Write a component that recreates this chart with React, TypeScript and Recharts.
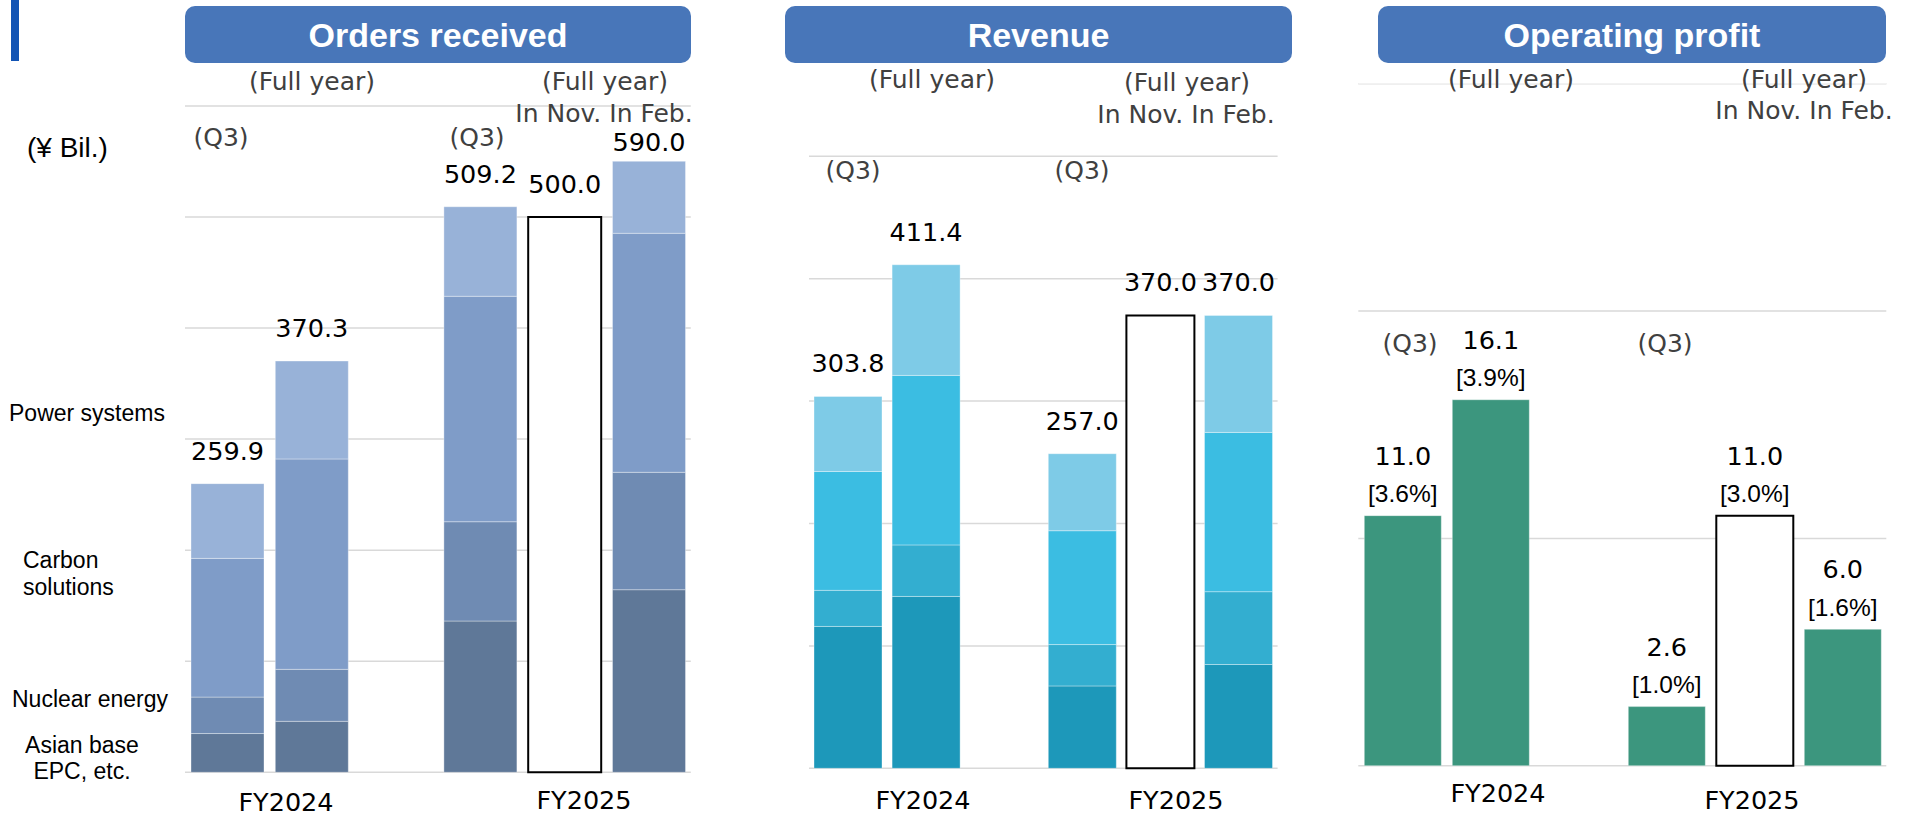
import React from 'react';
import { BarChart, Bar, XAxis, YAxis, CartesianGrid, LabelList, ReferenceLine } from 'recharts';

const W = 1910;
const H = 818;

// Six slots per panel: the third one is the empty gap between the two fiscal years
const slots = ['FY2024 Q3', 'FY2024 Full year', 'gap', 'FY2025 Q3', 'FY2025 Full year (Nov.)', 'FY2025 Full year (Feb.)'];
const segmentNames = ['Asian base EPC, etc.', 'Nuclear energy', 'Carbon solutions', 'Power systems'];

// Orders received (¥ Bil.)
const ordersAsian = [34.9, 45.9, null, 136.2, null, 164.4];
const ordersNuclear = [32.8, 46.8, null, 89.4, null, 105.7];
const ordersCarbon = [124.9, 189.4, null, 203.0, null, 215.2];
const ordersPower = [67.3, 88.2, null, 80.6, null, 64.8];
const ordersForecast = [null, null, null, null, 500.0, null];
const ordersLabels = ['259.9', '370.3', '', '509.2', '500.0', '590.0'];
const ordersTicks = [0, 100, 200, 300, 400, 500];

// Revenue (¥ Bil.)
const revAsian = [115.9, 140.4, null, 67.3, null, 84.8];
const revNuclear = [29.5, 42.1, null, 33.8, null, 59.5];
const revCarbon = [97.1, 138.5, null, 93.0, null, 130.1];
const revPower = [61.3, 90.4, null, 62.9, null, 95.6];
const revForecast = [null, null, null, null, 370.0, null];
const revLabels = ['303.8', '411.4', '', '257.0', '370.0', '370.0'];
const revTicks = [0, 100, 200, 300, 400, 500];

// Operating profit (¥ Bil.)
const opValues = [11.0, 16.1, null, 2.6, null, 6.0];
const opForecast = [null, null, null, null, 11.0, null];
const opLabels = ['11.0', '16.1', '', '2.6', '11.0', '6.0'];
const opMargins = ['[3.6%]', '[3.9%]', '', '[1.0%]', '[3.0%]', '[1.6%]'];
const opTicks = [0, 10, 20];

const panelTitles = ['Orders received', 'Revenue', 'Operating profit'];
const fyLabels = ['FY2024', 'FY2025'];

const ordersColors = ['#5F7898', '#6F8BB3', '#7F9CC8', '#98B2D8'];
const revColors = ['#1D98BA', '#33AED0', '#3BBDE2', '#7ECBE7'];
const opColors = ['#3C967E'];

const NUM_FONT = '"DejaVu Sans", Verdana, sans-serif';
const ARIAL = '"Liberation Sans", Arial, sans-serif';
const GRAY = '#404040';

function buildRows(segs: (number | null)[][], forecast: (number | null)[]) {
  return slots.map((slot, i) => {
    const r: any = { slot, idx: i };
    segs.forEach((s, k) => {
      r['s' + k] = s[i];
    });
    r.fc = forecast[i];
    return r;
  });
}

const ordersRows = buildRows([ordersAsian, ordersNuclear, ordersCarbon, ordersPower], ordersForecast);
const revRows = buildRows([revAsian, revNuclear, revCarbon, revPower], revForecast);
const opRows = buildRows([opValues], opForecast);

function topLabel(rows: any[], keys: string[], keyIdx: number, render: (cx: number, top: number, i: number) => any) {
  const key = keys[keyIdx];
  const present = rows.map((r, i) => (r[key] != null ? i : -1)).filter((i) => i >= 0);
  return (props: any) => {
    const vb = props.viewBox ?? props;
    let i: number | undefined;
    if (props.payload && typeof props.payload.idx === 'number') i = props.payload.idx;
    else if (props.index != null) i = present[props.index];
    if (i == null) return null;
    const row = rows[i];
    if (!row || row[key] == null) return null;
    for (let k = keyIdx + 1; k < keys.length; k++) if (row[keys[k]] != null) return null;
    const x = Number(vb.x);
    const y = Number(vb.y);
    const w = Number(vb.width);
    const h = Number(vb.height);
    const top = h < 0 ? y + h : y;
    return render(x + w / 2, top, i);
  };
}

type PanelProps = {
  rows: any[];
  segCount: number;
  colors: string[];
  domain: [number, number];
  ticks: number[];
  barSize: number;
  margin: { top: number; right: number; bottom: number; left: number };
  render: (cx: number, top: number, i: number) => any;
  faintTop?: number;
};

function Panel({ rows, segCount, colors, domain, ticks, barSize, margin, render, faintTop }: PanelProps) {
  const keys = [...Array.from({ length: segCount }, (_, k) => 's' + k), 'fc'];
  return (
    <div style={{ position: 'absolute', left: 0, top: 0 }}>
      <BarChart width={W} height={H} data={rows} margin={margin} barSize={barSize}>
        <CartesianGrid vertical={false} stroke="#D9D9D9" strokeWidth={1.5} />
        <XAxis dataKey="slot" hide />
        <YAxis hide type="number" domain={domain} ticks={ticks} />
        {faintTop != null && <ReferenceLine y={faintTop} stroke="#F2F2F2" strokeWidth={1.5} />}
        {keys.map((k, idx) => (
          <Bar
            key={k}
            dataKey={k}
            name={k === 'fc' ? 'Forecast' : segCount > 1 ? segmentNames[idx] : 'Operating profit'}
            stackId="a"
            fill={k === 'fc' ? '#FFFFFF' : colors[idx]}
            stroke={k === 'fc' ? '#000000' : 'rgba(255,255,255,0.35)'}
            strokeWidth={k === 'fc' ? 2 : 1}
            isAnimationActive={false}
          >
            <LabelList content={topLabel(rows, keys, idx, render)} />
          </Bar>
        ))}
      </BarChart>
    </div>
  );
}

// minY keeps a label clear of the annotation text block above the plot
const valueLabel = (labels: string[], gap: number, minY: number) => (cx: number, top: number, i: number) => (
  <text
    x={cx}
    y={Math.max(top - gap, minY)}
    textAnchor="middle"
    dominantBaseline="central"
    fontFamily={NUM_FONT}
    fontSize={25.5}
    fill="#000"
  >
    {labels[i]}
  </text>
);

const opLabel = (cx: number, top: number, i: number) => (
  <g>
    <text x={cx} y={top - 60} textAnchor="middle" dominantBaseline="central" fontFamily={NUM_FONT} fontSize={25.5} fill="#000">
      {opLabels[i]}
    </text>
    <text x={cx} y={top - 22} textAnchor="middle" dominantBaseline="central" fontFamily={ARIAL} fontSize={24.5} fill="#000">
      {opMargins[i]}
    </text>
  </g>
);

function T({ x, y, children, size = 25, fill = GRAY, family = NUM_FONT, anchor = 'middle', weight = 'normal' }: any) {
  return (
    <text x={x} y={y} textAnchor={anchor} dominantBaseline="central" fontSize={size} fill={fill} fontFamily={family} fontWeight={weight}>
      {children}
    </text>
  );
}

function Overlay() {
  const boxes = [
    { x: 185, w: 506 },
    { x: 785, w: 507 },
    { x: 1378, w: 508 },
  ];
  return (
    <svg width={W} height={H} style={{ position: 'absolute', left: 0, top: 0, pointerEvents: 'none' }}>
      <rect x={11} y={0} width={8} height={61} fill="#1254B4" />
      {boxes.map((b, i) => (
        <g key={i}>
          <rect x={b.x} y={6} width={b.w} height={57} rx={10} ry={10} fill="#4876B9" />
          <T x={b.x + b.w / 2} y={35} size={34} fill="#FFFFFF" family={ARIAL} weight="bold">
            {panelTitles[i]}
          </T>
        </g>
      ))}

      {/* Orders received annotations */}
      <T x={312} y={81}>(Full year)</T>
      <T x={605} y={81}>(Full year)</T>
      <T x={604} y={113}>In Nov. In Feb.</T>
      <T x={221} y={137}>(Q3)</T>
      <T x={477} y={137}>(Q3)</T>
      <T x={27} y={147} anchor="start" size={28} fill="#000" family={ARIAL}>(¥ Bil.)</T>
      <T x={9} y={413} anchor="start" size={23} fill="#000" family={ARIAL}>Power systems</T>
      <T x={23} y={560} anchor="start" size={23} fill="#000" family={ARIAL}>Carbon</T>
      <T x={23} y={587} anchor="start" size={23} fill="#000" family={ARIAL}>solutions</T>
      <T x={12} y={699} anchor="start" size={23} fill="#000" family={ARIAL}>Nuclear energy</T>
      <T x={82} y={745} size={23} fill="#000" family={ARIAL}>Asian base</T>
      <T x={82} y={771} size={23} fill="#000" family={ARIAL}>EPC, etc.</T>
      <T x={286} y={802} fill="#000" size={25.5}>{fyLabels[0]}</T>
      <T x={584} y={800} fill="#000" size={25.5}>{fyLabels[1]}</T>

      {/* Revenue annotations */}
      <T x={932} y={79}>(Full year)</T>
      <T x={1187} y={82}>(Full year)</T>
      <T x={1186} y={114}>In Nov. In Feb.</T>
      <T x={853} y={170}>(Q3)</T>
      <T x={1082} y={170}>(Q3)</T>
      <T x={923} y={800} fill="#000" size={25.5}>{fyLabels[0]}</T>
      <T x={1176} y={800} fill="#000" size={25.5}>{fyLabels[1]}</T>

      {/* Operating profit annotations */}
      <T x={1511} y={79}>(Full year)</T>
      <T x={1804} y={79}>(Full year)</T>
      <T x={1804} y={110}>In Nov. In Feb.</T>
      <T x={1410} y={343}>(Q3)</T>
      <T x={1665} y={343}>(Q3)</T>
      <T x={1498} y={793} fill="#000" size={25.5}>{fyLabels[0]}</T>
      <T x={1752} y={800} fill="#000" size={25.5}>{fyLabels[1]}</T>
    </svg>
  );
}

export default function App() {
  return (
    <div style={{ position: 'absolute', left: 0, top: 0, width: W, height: H, background: '#FFFFFF', overflow: 'hidden' }}>
      <Panel
        rows={ordersRows}
        segCount={4}
        colors={ordersColors}
        domain={[0, 600]}
        ticks={ordersTicks}
        barSize={73}
        margin={{ top: 105.9, bottom: H - 772.3, left: 185, right: W - 690.8 }}
        render={valueLabel(ordersLabels, 33, 142)}
      />
      <Panel
        rows={revRows}
        segCount={4}
        colors={revColors}
        domain={[0, 500]}
        ticks={revTicks}
        barSize={68}
        margin={{ top: 156.3, bottom: H - 768.3, left: 809, right: W - 1277.6 }}
        render={valueLabel(revLabels, 33, 142)}
      />
      <Panel
        rows={opRows}
        segCount={1}
        colors={opColors}
        domain={[0, 30]}
        ticks={opTicks}
        barSize={77}
        margin={{ top: 83.8, bottom: H - 765.7, left: 1358.3, right: W - 1886.3 }}
        render={opLabel}
        faintTop={30}
      />
      <Overlay />
    </div>
  );
}
